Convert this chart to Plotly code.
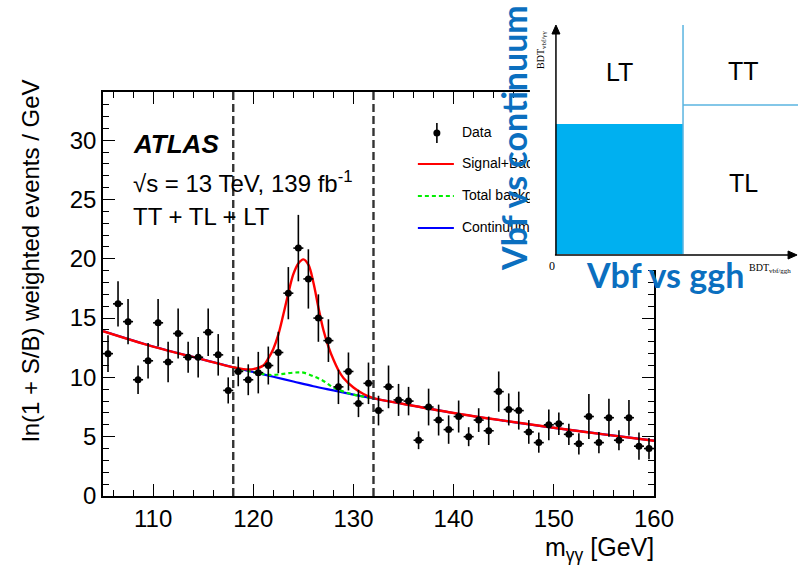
import plotly.graph_objects as go

# ---------------- data ----------------
mass = [105.5 + i for i in range(55)]
events = [12.0, 16.2, 14.7, 9.8, 11.4, 14.6, 11.3, 13.7, 11.7, 11.7,
          13.8, 11.9, 8.9, 10.5, 9.8, 10.4, 11.0, 12.1, 17.1, 20.9,
          18.3, 15.0, 13.1, 9.2, 10.5, 7.8, 9.5, 7.2, 9.2, 8.1,
          8.0, 4.7, 7.5, 6.4, 5.6, 6.7, 5.0, 6.4, 5.5, 8.8,
          7.3, 7.2, 5.4, 4.5, 6.0, 6.1, 5.2, 4.4, 6.7, 4.5,
          6.6, 4.7, 6.6, 4.2, 4.0]
errors = [1.55, 1.9, 1.9, 1.2, 1.5, 2.0, 1.7, 2.1, 1.3, 1.7,
          2.0, 1.75, 1.1, 1.25, 1.3, 1.75, 1.6, 1.75, 2.2, 2.8,
          2.5, 2.0, 1.8, 1.45, 1.6, 1.15, 1.75, 1.25, 1.8, 1.35,
          1.2, 0.75, 1.55, 1.3, 1.2, 1.35, 0.8, 1.0, 1.2, 1.7,
          1.35, 1.6, 1.0, 0.85, 1.3, 0.95, 0.9, 0.9, 1.9, 0.9,
          1.6, 0.85, 1.5, 1.15, 0.9]

sb_mass = [105, 110, 115, 118, 119, 120, 121, 121.5, 122, 122.5, 123, 123.5,
           124, 124.5, 125, 125.5, 126, 126.5, 127, 127.5, 128, 128.5, 129,
           130, 131, 132, 135, 140, 145, 150, 155, 160]
sb_val = [13.9, 12.6, 11.5, 10.85, 10.7, 10.7, 11.0, 11.6, 12.4, 13.6, 15.3, 17.1,
          18.7, 19.6, 19.95, 19.5, 18.0, 15.9, 14.0, 12.6, 11.5, 10.6, 9.95,
          9.15, 8.6, 8.25, 7.76, 7.0, 6.35, 5.75, 5.2, 4.66]

tot_mass = [118, 119, 120, 121, 122, 123, 124, 124.5, 125, 126, 127, 128, 129, 130, 131, 132]
tot_val = [10.85, 10.65, 10.45, 10.27, 10.2, 10.3, 10.4, 10.42, 10.4, 10.1, 9.7,
           9.15, 8.8, 8.55, 8.38, 8.22]

cont_mass = [105, 110, 115, 118, 120, 122, 124, 126, 128, 130, 132, 135, 140, 145, 150, 155, 160]
cont_val = [13.9, 12.6, 11.5, 10.85, 10.45, 10.05, 9.65, 9.25, 8.9, 8.55, 8.22,
            7.76, 7.0, 6.35, 5.75, 5.2, 4.66]

window_edges = [118, 132]
x_ticks = [110, 120, 130, 140, 150, 160]

legend_labels = ["Data", "Signal+Background", "Total background", "Continuum background"]

# ---------------- geometry helpers (pixels -> paper) ----------------
W, H = 798, 574
L, R, T, B = 103.3, 654, 92, 496


def px(x):
    return (x - L) / (R - L)


def py(y):
    return (B - y) / (B - T)


FONT = "Liberation Sans, Arial, Helvetica, sans-serif"
SERIF = "Liberation Serif, Times New Roman, serif"
BLUE_TXT = "#0B6FBF"

fig = go.Figure()

# curves
fig.add_trace(go.Scatter(x=cont_mass, y=cont_val, mode="lines", line=dict(color="#0000ff", width=2.2, shape="spline"),
                         showlegend=False, hoverinfo="skip"))
fig.add_trace(go.Scatter(x=tot_mass, y=tot_val, mode="lines",
                         line=dict(color="#00ee00", width=2.2, dash="4px,3px", shape="spline"),
                         showlegend=False, hoverinfo="skip"))
fig.add_trace(go.Scatter(x=sb_mass, y=sb_val, mode="lines", line=dict(color="#ff0000", width=2.4, shape="spline"),
                         showlegend=False, hoverinfo="skip"))
# data
fig.add_trace(go.Scatter(x=mass, y=events, mode="markers",
                         marker=dict(color="black", size=7),
                         error_y=dict(type="data", array=errors, color="black", thickness=1.6, width=0),
                         error_x=dict(type="constant", value=0.5, color="black", thickness=1.6, width=0),
                         showlegend=False))

# ---------------- legend on overlay axes (so it can be covered by the inset) ----------------
leg_x0, leg_x1, leg_tx = px(418), px(454), px(462)
leg_y = [py(133), py(164), py(196), py(228)]
fig.add_trace(go.Scatter(x=[px(437)], y=[leg_y[0]], mode="markers", xaxis="x2", yaxis="y2",
                         marker=dict(color="black", size=7),
                         error_y=dict(type="constant", value=10 / (B - T), color="black", thickness=1.6, width=0),
                         showlegend=False, hoverinfo="skip"))
leg_styles = [dict(color="#ff0000", width=2.2), dict(color="#00ee00", width=2.2, dash="4px,3px"),
              dict(color="#0000ff", width=2.2)]
for i, st in enumerate(leg_styles):
    fig.add_trace(go.Scatter(x=[leg_x0, leg_x1], y=[leg_y[i + 1]] * 2, mode="lines", xaxis="x2", yaxis="y2",
                             line=st, showlegend=False, hoverinfo="skip"))
fig.add_trace(go.Scatter(x=[leg_tx] * 4, y=leg_y, mode="text", text=legend_labels, textposition="middle right",
                         textfont=dict(family=FONT, size=14, color="black"), xaxis="x2", yaxis="y2",
                         showlegend=False, hoverinfo="skip"))

axis_common = dict(showline=True, linecolor="black", linewidth=1.5, mirror="allticks", ticks="inside",
                   tickcolor="black", tickwidth=1.2, showgrid=False, zeroline=False,
                   tickfont=dict(family=FONT, size=24, color="black"))

fig.update_layout(
    width=W, height=H,
    margin=dict(l=L, r=W - R, t=T, b=H - B),
    paper_bgcolor="white", plot_bgcolor="white",
    xaxis=dict(range=[105, 160], tickvals=x_ticks, ticklen=12,
               minor=dict(ticks="inside", ticklen=6, dtick=2, tickcolor="black", tickwidth=1.2),
               **axis_common),
    yaxis=dict(range=[0, 34.06], dtick=5, ticklen=12,
               minor=dict(ticks="inside", ticklen=6, dtick=1, tickcolor="black", tickwidth=1.2),
               **axis_common),
    xaxis2=dict(overlaying="x", range=[0, 1], visible=False),
    yaxis2=dict(overlaying="y", range=[0, 1], visible=False),
    showlegend=False,
)

# dashed window lines
for xe in window_edges:
    fig.add_shape(type="line", xref="x", yref="y domain", x0=xe, x1=xe, y0=0, y1=1,
                  line=dict(color="#333333", width=2.4, dash="8px,4px"), layer="above")

# ---------------- inset (covers top right of main plot) ----------------
fig.add_shape(type="rect", xref="paper", yref="paper", x0=px(530), x1=px(800), y0=py(270), y1=py(-2),
              fillcolor="white", line=dict(width=0), layer="above")
fig.add_shape(type="rect", xref="paper", yref="paper", x0=px(556), x1=px(683), y0=py(254), y1=py(124),
              fillcolor="#00B0F0", line=dict(width=0), layer="above")
fig.add_shape(type="line", xref="paper", yref="paper", x0=px(683), x1=px(683), y0=py(254), y1=py(25),
              line=dict(color="#5AB4E0", width=1.5), layer="above")
fig.add_shape(type="line", xref="paper", yref="paper", x0=px(683), x1=px(798), y0=py(105), y1=py(105),
              line=dict(color="#5AB4E0", width=1.5), layer="above")
# inset axes with arrows
fig.add_shape(type="line", xref="paper", yref="paper", x0=px(556), x1=px(556), y0=py(255), y1=py(32),
              line=dict(color="black", width=1.5), layer="above")
fig.add_shape(type="line", xref="paper", yref="paper", x0=px(555), x1=px(790), y0=py(255), y1=py(255),
              line=dict(color="black", width=1.5), layer="above")
fig.add_shape(type="path", xref="paper", yref="paper",
              path=f"M {px(552)} {py(34)} L {px(556)} {py(25)} L {px(560)} {py(34)} Z",
              fillcolor="black", line=dict(color="black", width=1), layer="above")
fig.add_shape(type="path", xref="paper", yref="paper",
              path=f"M {px(788)} {py(251)} L {px(797)} {py(255)} L {px(788)} {py(259)} Z",
              fillcolor="black", line=dict(color="black", width=1), layer="above")

ann = []


def add_text(text, x, y, size, color="black", family=FONT, angle=0, xanchor="center", yanchor="middle"):
    ann.append(dict(text=text, x=px(x), y=py(y), xref="paper", yref="paper", showarrow=False,
                    font=dict(family=family, size=size, color=color), textangle=angle,
                    xanchor=xanchor, yanchor=yanchor))


add_text("LT", 620, 72, 25)
add_text("TT", 743, 71, 25)
add_text("TL", 743, 183, 25)
add_text("0", 552, 266, 12, family=SERIF)
add_text("BDT<sub>vbf/γγ</sub>", 542, 50, 10, family=SERIF, angle=-90)
add_text("BDT<sub>vbf/ggh</sub>", 770, 268, 10, family=SERIF)
add_text("<b>Vbf vs continuum</b>", 513, 138, 34, color=BLUE_TXT, family="Lato, Open Sans, sans-serif", angle=-90)
add_text("<b>Vbf vs ggh</b>", 665, 274, 34, color=BLUE_TXT, family="Lato, Open Sans, sans-serif")

# ATLAS labels
add_text("<b><i>ATLAS</i></b>", 131, 144, 26, xanchor="left")
add_text("√s = 13 TeV, 139 fb<sup>-1</sup>", 131, 182, 24, xanchor="left")
add_text("TT + TL + LT", 131, 216, 24, xanchor="left")

# axis titles
add_text("m<sub>γγ</sub> [GeV]", 656, 549, 25, xanchor="right")
add_text("ln(1 + S/B) weighted events / GeV", 30, 78, 24, angle=-90, yanchor="top")

fig.update_layout(annotations=ann)

fig.write_html("out.html")
